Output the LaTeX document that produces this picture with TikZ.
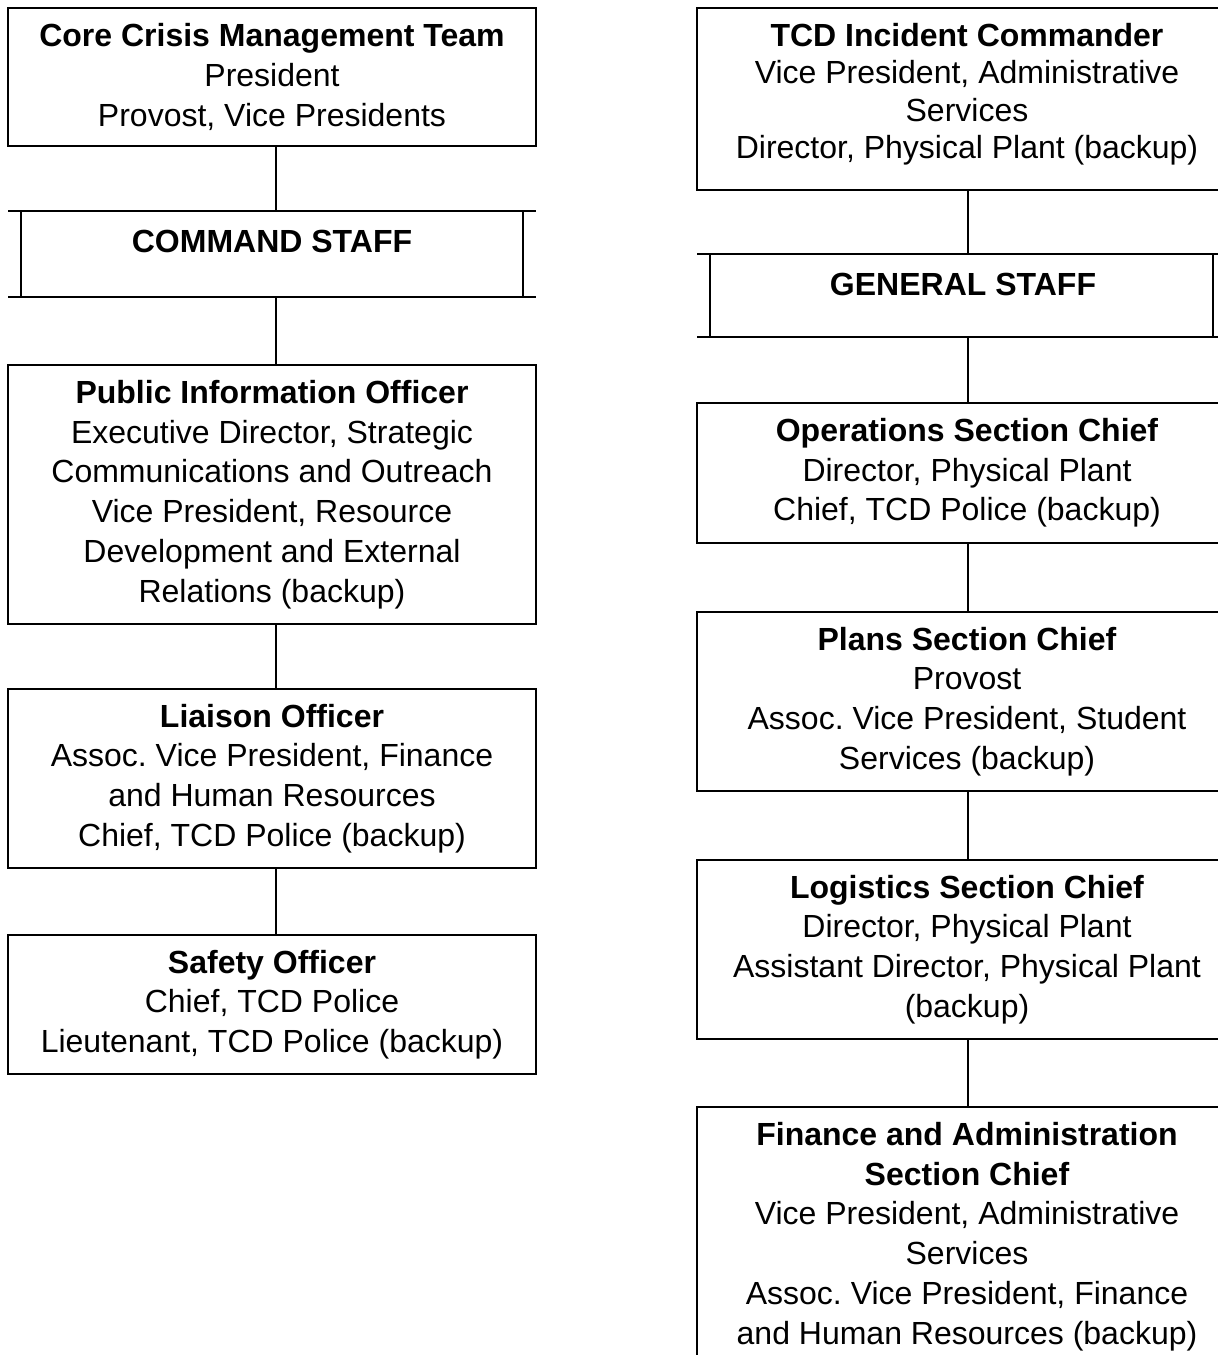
\documentclass[tikz,border=0pt]{standalone}
\usepackage{fontspec}
\setmainfont{Liberation Sans}
\begin{document}
\begin{tikzpicture}[x=1pt,y=-1pt,
  box/.style={draw=black, line width=2.2pt, inner sep=0pt, outer sep=0pt, align=center,
    font=\fontsize{32}{39.7}\selectfont},
  lbox/.style={box, minimum width=528pt},
  rbox/.style={box, minimum width=540pt},
  staff/.style={inner sep=0pt, outer sep=0pt},
  stafftext/.style={inner sep=0pt, font=\fontsize{32}{39.7}\selectfont\bfseries},
  conn/.style={line width=2.2pt}]
\path[use as bounding box] (0,0) rectangle (1218,1355);
\clip (0,0) rectangle (1218,1355);
% left column
\node[lbox, minimum height=138pt] (core) at (272,77)
  {\textbf{Core Crisis Management Team}\\President\\Provost, Vice Presidents};
\node[staff, minimum width=528pt, minimum height=86pt] (cmd) at (272,254) {};
\draw[conn] (cmd.north west) -- (cmd.north east);
\draw[conn] (cmd.south west) -- (cmd.south east);
\draw[conn] ([xshift=13pt]cmd.north west) -- ([xshift=13pt]cmd.south west);
\draw[conn] ([xshift=-13pt]cmd.north east) -- ([xshift=-13pt]cmd.south east);
\node[stafftext] (cmdt) at ([yshift=-30pt]cmd.north) {COMMAND STAFF};
\node[lbox, minimum height=259pt] (pio) at (272,494.5)
  {\textbf{Public Information Officer}\\Executive Director, Strategic\\Communications and Outreach\\Vice President, Resource\\Development and External\\Relations (backup)};
\node[lbox, minimum height=179pt] (liaison) at (272,778.5)
  {\textbf{Liaison Officer}\\Assoc.\ Vice President, Finance\\and Human Resources\\Chief, TCD Police (backup)};
\node[lbox, minimum height=139pt] (safety) at (272,1004.5)
  {\textbf{Safety Officer}\\Chief, TCD Police\\Lieutenant, TCD Police (backup)};
\draw[conn] ([xshift=4pt]core.south) -- ([xshift=4pt]cmd.north);
\draw[conn] ([xshift=4pt]cmd.south) -- ([xshift=4pt]pio.north);
\draw[conn] ([xshift=4pt]pio.south) -- ([xshift=4pt]liaison.north);
\draw[conn] ([xshift=4pt]liaison.south) -- ([xshift=4pt]safety.north);
% right column
\node[rbox, minimum height=182pt, font=\fontsize{32}{37.5}\selectfont] (tcd) at (967,99)
  {\textbf{TCD Incident Commander}\\Vice President, Administrative\\Services\\Director, Physical Plant (backup)\\[-21pt]\mbox{}};
\node[staff, minimum width=529pt, minimum height=83pt] (gs) at (961.5,295.5) {};
\draw[conn] (gs.north west) -- (gs.north east);
\draw[conn] (gs.south west) -- (gs.south east);
\draw[conn] ([xshift=13pt]gs.north west) -- ([xshift=13pt]gs.south west);
\draw[conn] ([xshift=-13pt]gs.north east) -- ([xshift=-13pt]gs.south east);
\node[stafftext] (gst) at ([xshift=1.5pt,yshift=-30pt]gs.north) {GENERAL STAFF};
\node[rbox, minimum height=140pt] (ops) at (967,473)
  {\textbf{Operations Section Chief}\\Director, Physical Plant\\Chief, TCD Police (backup)};
\node[rbox, minimum height=179pt] (plans) at (967,701.5)
  {\textbf{Plans Section Chief}\\Provost\\Assoc.\ Vice President, Student\\Services (backup)};
\node[rbox, minimum height=179pt] (logi) at (967,949.5)
  {\textbf{Logistics Section Chief}\\Director, Physical Plant\\Assistant Director, Physical Plant\\(backup)};
\node[rbox, minimum height=259pt] (fin) at (967,1236.5)
  {\textbf{Finance and Administration}\\\textbf{Section Chief}\\Vice President, Administrative\\Services\\Assoc.\ Vice President, Finance\\and Human Resources (backup)};
\draw[conn] ([xshift=1pt]tcd.south) -- ([xshift=1pt]tcd.south |- gs.north);
\draw[conn] ([xshift=1pt]tcd.south |- gs.south) -- ([xshift=1pt]ops.north);
\draw[conn] ([xshift=1pt]ops.south) -- ([xshift=1pt]plans.north);
\draw[conn] ([xshift=1pt]plans.south) -- ([xshift=1pt]logi.north);
\draw[conn] ([xshift=1pt]logi.south) -- ([xshift=1pt]fin.north);
\end{tikzpicture}
\end{document}
